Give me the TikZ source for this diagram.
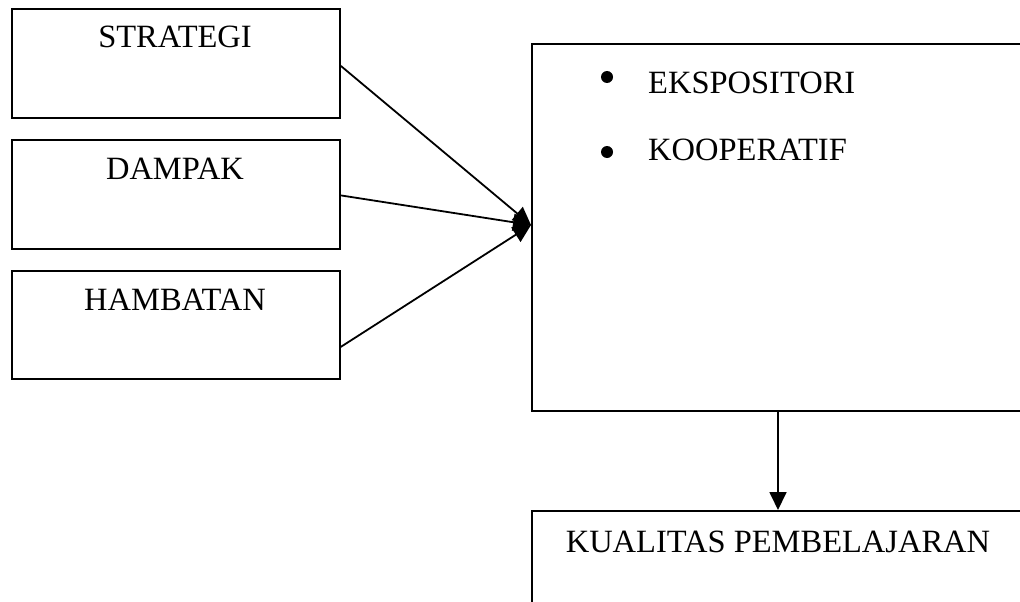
\documentclass[tikz,border=0pt]{standalone}
\usepackage{fontspec}
\setmainfont{Liberation Serif}
\usetikzlibrary{arrows.meta,calc}
\begin{document}
\begin{tikzpicture}[x=1pt,y=-1pt,
  box/.style={draw,line width=1.8pt,inner sep=0pt},
  lbl/.style={anchor=base,inner sep=0pt,font=\fontsize{32.5}{38}\selectfont},
  conn/.style={line width=1.8pt,-{Triangle[length=18pt,width=17pt]}},
  dot/.style={circle,fill=black,inner sep=0pt,minimum size=12pt}]
\useasboundingbox (0,0) rectangle (1020,602);
% left boxes
\node[box,anchor=north west,minimum width=328pt,minimum height=109pt] (s) at (11,8) {};
\node[box,anchor=north west,minimum width=328pt,minimum height=109pt] (d) at (11,139) {};
\node[box,anchor=north west,minimum width=328pt,minimum height=108pt] (h) at (11,270) {};
\node[lbl] (sl) at (175,48) {STRATEGI};
\node[lbl] (dl) at (175,179) {DAMPAK};
\node[lbl] (hl) at (175,310) {HAMBATAN};
% big box (open to the right)
\node[box,anchor=north west,minimum width=520pt,minimum height=367pt] (m) at (531,43) {};
\node[dot] (b1) at (607,77) {};
\node[dot] (b2) at (607,152) {};
\node[lbl,anchor=base west] (e1) at (648,93) {EKSPOSITORI};
\node[lbl,anchor=base west] (e2) at (648,160) {KOOPERATIF};
% bottom box
\node[box,anchor=north west,minimum width=520pt,minimum height=120pt] (k) at (531,510) {};
\node[lbl] (kl) at (778,552) {KUALITAS PEMBELAJARAN};
% connectors
\coordinate (tip) at (531,225);
\coordinate (s1) at ($(s.east)+(0,2.5)$);
\coordinate (d1) at ($(d.east)+(0,1)$);
\coordinate (h1) at ($(h.east)+(0,22)$);
\draw[conn] (s1) -- (tip);
\draw[conn] (d1) -- (tip);
\draw[conn] (h1) -- (tip);
\coordinate (m1) at (m.south west -| 778,0);
\coordinate (k1) at (k.north west -| 778,0);
\draw[conn] (m1) -- (k1);
\end{tikzpicture}
\end{document}
